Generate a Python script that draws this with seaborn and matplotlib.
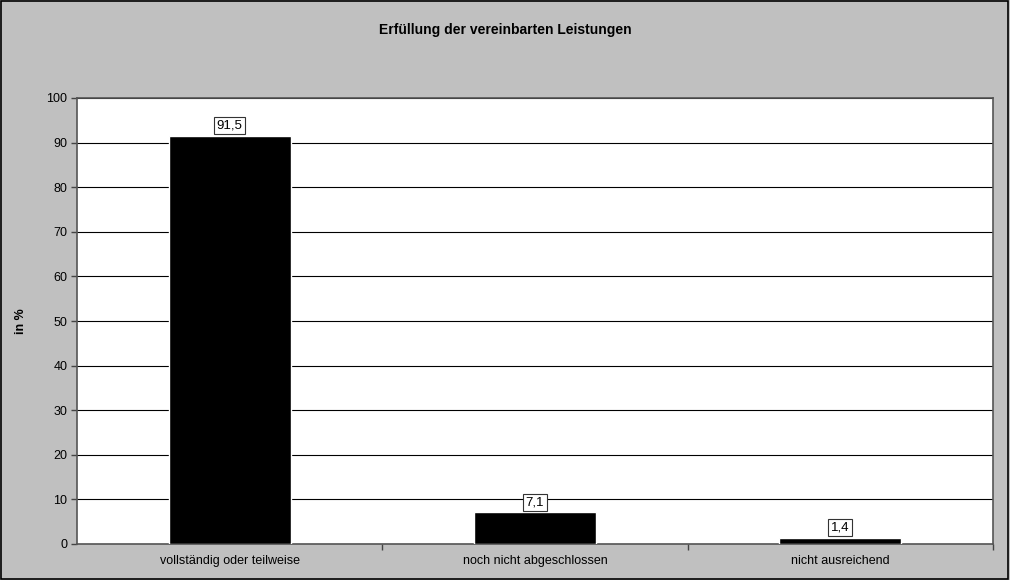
import matplotlib
matplotlib.use("Agg")
import matplotlib.pyplot as plt
import seaborn as sns
import pandas as pd

kategorien = ["vollständig oder teilweise", "noch nicht abgeschlossen", "nicht ausreichend"]
anteile = [91.5, 7.1, 1.4]
beschriftungen = ["91,5", "7,1", "1,4"]
y_ticks = [0, 10, 20, 30, 40, 50, 60, 70, 80, 90, 100]

sns.set_theme(style="white")
plt.rcParams["font.family"] = ["Liberation Sans", "DejaVu Sans"]
plt.rcParams.update({"text.color": "black", "axes.labelcolor": "black",
                     "xtick.color": "black", "ytick.color": "black"})

df = pd.DataFrame({"Kategorie": kategorien, "Anteil": anteile})

fig = plt.figure(figsize=(10.1, 5.8), dpi=100, facecolor="#c0c0c0")
ax = fig.add_axes([77 / 1010, 36 / 580, 916 / 1010, 446 / 580])
ax.set_facecolor("white")

sns.barplot(data=df, x="Kategorie", y="Anteil", color="black", width=0.4,
            saturation=1, ax=ax, zorder=3)

ax.set_ylim(0, 100)
ax.set_xlim(-0.5, 2.5)
ax.set_yticks(y_ticks)
ax.set_yticklabels([str(t) for t in y_ticks], fontsize=9)
ax.yaxis.grid(True, color="black", linewidth=0.8, zorder=0)
ax.set_axisbelow(True)

# Striche zwischen den Kategorien
ax.set_xticks([0, 1, 2])
ax.set_xticklabels(kategorien, fontsize=9)
ax.tick_params(axis="x", which="major", length=0, pad=8)
ax.set_xticks([0.5, 1.5, 2.5], minor=True)
ax.tick_params(axis="x", which="minor", length=4, width=1, color="#444444", direction="out")
ax.tick_params(axis="y", length=4, width=1, color="#444444", direction="out", pad=3)
ax.xaxis.set_tick_params(which="minor", bottom=True)
ax.yaxis.set_tick_params(left=True)

for s in ["left", "bottom", "top", "right"]:
    ax.spines[s].set_color("#555555")
    ax.spines[s].set_linewidth(1.2)

ax.set_xlabel("")
ax.set_ylabel("in %", fontsize=9, fontweight="bold", labelpad=14)

for i, (v, txt) in enumerate(zip(anteile, beschriftungen)):
    ax.annotate(txt, xy=(i, v), xytext=(0, 3), textcoords="offset points",
                ha="center", va="bottom", fontsize=9.5, zorder=5,
                bbox=dict(boxstyle="square,pad=0.2", fc="white", ec="#333333", lw=0.8))

fig.text(0.5, 1 - 30 / 580, "Erfüllung der vereinbarten Leistungen",
         ha="center", va="center", fontsize=10, fontweight="bold")

# Rahmen um die ganze Grafik
fig.patches.append(plt.Rectangle((0.001, 0.001), 0.997, 0.997, transform=fig.transFigure,
                                 fill=False, edgecolor="black", linewidth=1.2))

fig.savefig("out.png", dpi=100, facecolor=fig.get_facecolor())
